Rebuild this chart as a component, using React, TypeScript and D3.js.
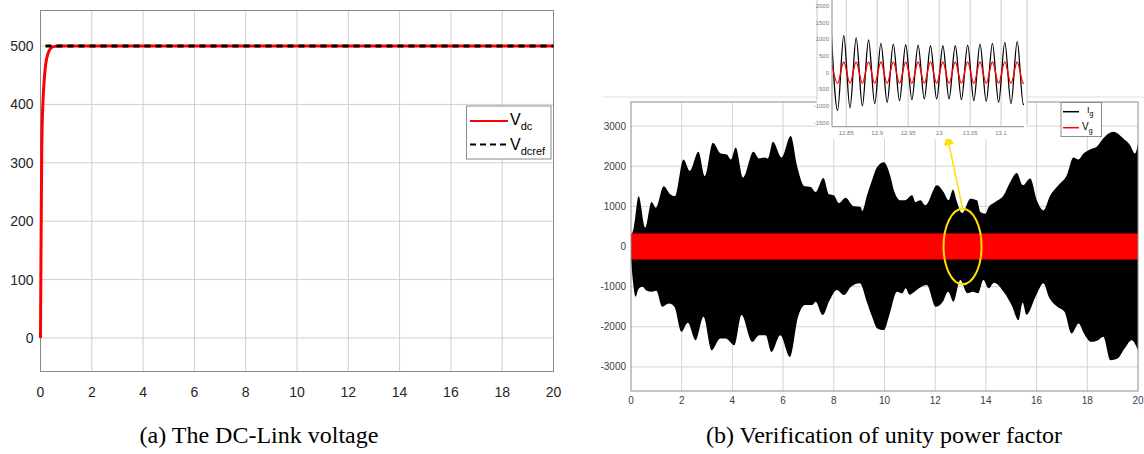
import * as d3 from "d3";

// (a) DC-link voltage
const vdcTime = [0, 0.02, 0.05, 0.1, 0.15, 0.2, 0.3, 0.4, 0.5, 0.7, 20];
const vdcValue = [0, 150, 328, 408, 445, 468, 488, 496, 499, 500, 500];
const vdcRefValue = 500;
const timeTicks = [0, 2, 4, 6, 8, 10, 12, 14, 16, 18, 20];
const vdcTicks = [0, 100, 200, 300, 400, 500];

// (b) grid current envelope (upper / lower)
const igUpperTime = [0, 0.12, 0.3, 0.56, 0.81, 0.98, 1.29, 1.55, 1.73, 2.07, 2.32, 2.66, 2.91, 3.23, 3.54, 3.78, 3.94, 4.13, 4.42, 4.83, 5.05, 5.28, 5.4, 5.6, 5.94, 6.3, 6.56, 6.85, 7.09, 7.28, 7.59, 7.81, 8.0, 8.2, 8.46, 8.79, 9.06, 9.12, 9.31, 9.48, 9.71, 9.97, 10.24, 10.37, 10.63, 10.8, 11.09, 11.22, 11.42, 11.61, 12.07, 12.33, 12.53, 12.7, 12.86, 13.06, 13.39, 13.65, 13.78, 13.98, 14.11, 14.37, 14.7, 14.96, 15.22, 15.46, 15.75, 16.01, 16.27, 16.54, 16.86, 17.19, 17.45, 17.65, 17.85, 18.11, 18.37, 18.57, 19.03, 19.42, 19.69, 19.88, 20];
const igUpperValue = [250, 500, 1250, 467, 1108, 967, 1500, 1300, 1250, 2167, 1883, 2358, 1750, 2583, 2317, 2292, 2167, 2467, 1717, 2358, 2192, 2217, 2190, 2608, 2217, 2750, 1983, 1500, 1483, 1358, 1708, 1300, 1275, 1083, 1217, 1000, 983, 883, 1275, 1600, 1983, 2100, 1733, 1400, 1150, 1150, 1275, 1108, 1150, 1025, 1525, 1358, 1150, 1417, 1108, 833, 1192, 1150, 858, 817, 983, 1108, 1275, 1608, 1833, 1525, 1692, 1150, 900, 1275, 1525, 1775, 2217, 2167, 2317, 2417, 2483, 2650, 2858, 2692, 2525, 2317, 2567];
const igLowerTime = [0, 0.1, 0.18, 0.3, 0.45, 0.62, 0.81, 1.0, 1.23, 1.5, 1.71, 1.99, 2.24, 2.55, 2.86, 3.18, 3.52, 3.73, 4.08, 4.36, 4.78, 5.06, 5.31, 5.54, 5.89, 6.27, 6.59, 6.87, 7.15, 7.28, 7.56, 7.84, 8.12, 8.4, 8.68, 9.03, 9.3, 9.51, 9.72, 9.97, 10.21, 10.49, 10.7, 10.84, 10.98, 11.18, 11.46, 11.67, 12.02, 12.3, 12.51, 12.72, 12.99, 13.27, 13.48, 13.69, 13.9, 14.11, 14.32, 14.74, 15.01, 15.29, 15.45, 15.6, 15.99, 16.27, 16.48, 16.82, 17.1, 17.38, 17.66, 17.87, 18.15, 18.43, 18.63, 18.91, 19.19, 19.47, 19.75, 20];
const igLowerValue = [-300, -1000, -1250, -1050, -1000, -1100, -1125, -1100, -1500, -1420, -1500, -2125, -1900, -2333, -1750, -2583, -2292, -2292, -2458, -1708, -2375, -2208, -2208, -2625, -2208, -2750, -1750, -1458, -1458, -1375, -1708, -1333, -1083, -1208, -1000, -917, -1375, -1750, -2042, -2083, -1667, -1125, -1167, -1042, -1200, -1125, -1000, -958, -1500, -1375, -1125, -1375, -833, -1167, -1130, -1167, -833, -1042, -900, -1167, -1458, -1833, -1400, -1700, -1208, -917, -1250, -1500, -1625, -2167, -1917, -2167, -2375, -2333, -2250, -2833, -2792, -2542, -2333, -2583];
const vgBand = 325;
const gridTicks = [-3000, -2000, -1000, 0, 1000, 2000, 3000];

// zoomed inset: successive peaks / troughs of Ig and Vg (50 Hz, half period 0.01 s)
const insetStart = 12.826;
const halfPeriod = 0.01;
const insetIg = [1150, -1131, 1111, -1060, 1040, -990, 980, -929, 879, -889, 859, -838, 838, -808, 828, -788, 808, -788, 808, -788, 808, -808, 828, -838, 859, -859, 879, -889, 909, -929, 929, -960, 950];
const insetVg = [322, -323, 320, -322, 321, -320, 322, -323, 320, -321, 322, -320, 321, -322, 320, -323, 322, -320, 321, -322, 320, -321, 322, -323, 320, -322, 321, -320, 322, -323, 320, -322, 321];
const insetXTicks = [12.85, 12.9, 12.95, 13, 13.05, 13.1];
const insetYTicks = [-1500, -1000, -500, 0, 500, 1000, 1500, 2000];

// marker ellipse and arrow tip, in panel (b) data units
const markT = 13.08;
const markRt = 0.75;
const markRv = 940;
const arrowTip = [12.45, 2825];

const sans = "'Liberation Sans', Arial, sans-serif";
const serif = "'Liberation Serif', 'Times New Roman', serif";

export default function App() {
  return (
    <div style={{ position: "absolute", left: 0, top: 0 }}>
      <svg width={1144} height={454} style={{ display: "block", background: "#fff" }}>
        <PanelA />
        <PanelB />
      </svg>
    </div>
  );
}

function PanelA() {
  const left = 40.5, right = 553.5, top = 10.5, bottom = 371.5;
  const x = d3.scaleLinear().domain([0, 20]).range([left, right]);
  const y = d3.scaleLinear().domain([-57.4, 560.8]).range([bottom, top]);
  const pts = vdcTime.map((t, i) => [t, vdcValue[i]]);
  const line = d3
    .line()
    .x((d) => x(d[0]))
    .y((d) => y(d[1]))
    .curve(d3.curveMonotoneX);

  return (
    <g>
      <rect x={left} y={top} width={right - left} height={bottom - top} fill="#fff" />
      {timeTicks.slice(1, -1).map((t) => (
        <line key={t} x1={x(t)} x2={x(t)} y1={top} y2={bottom} stroke="#cfcfcf" />
      ))}
      {vdcTicks.map((v) => (
        <line key={v} x1={left} x2={right} y1={y(v)} y2={y(v)} stroke="#cfcfcf" />
      ))}
      <rect x={left} y={top} width={right - left} height={bottom - top} fill="none" stroke="#8a8a8a" />
      <path d={line(pts)} fill="none" stroke="#ff0000" strokeWidth={3} />
      <line
        x1={x(0)}
        x2={x(20)}
        y1={y(vdcRefValue)}
        y2={y(vdcRefValue)}
        stroke="#000"
        strokeWidth={3}
        strokeDasharray="6 5"
        strokeDashoffset={-5}
      />
      {timeTicks.map((t) => (
        <text key={t} x={x(t)} y={bottom + 25} textAnchor="middle" fontFamily={sans} fontSize={14} fill="#262626">
          {t}
        </text>
      ))}
      {vdcTicks.map((v) => (
        <text key={v} x={left - 7} y={y(v) + 5} textAnchor="end" fontFamily={sans} fontSize={14} fill="#262626">
          {v}
        </text>
      ))}
      {/* legend */}
      <g fontFamily={sans} fill="#000">
        <rect x={466.5} y={106} width={84.5} height={53} fill="#fff" stroke="#8a8a8a" />
        <line x1={470} x2={508} y1={121} y2={121} stroke="#ff0000" strokeWidth={2} />
        <text x={510} y={124.5} fontSize={16}>
          V<tspan fontSize={11} dy={5}>dc</tspan>
        </text>
        <line x1={470} x2={508} y1={144.5} y2={144.5} stroke="#000" strokeWidth={2} strokeDasharray="6 4" />
        <text x={510} y={150} fontSize={16}>
          V<tspan fontSize={11} dy={5}>dcref</tspan>
        </text>
      </g>
      <text x={259} y={443} textAnchor="middle" fontFamily={serif} fontSize={24} fill="#000">
        (a) The DC-Link voltage
      </text>
    </g>
  );
}

function PanelB() {
  const left = 631, right = 1138, top = 102, bottom = 391;
  const x = d3.scaleLinear().domain([0, 20]).range([left, right]);
  const y = d3.scaleLinear().domain([-3600, 3600]).range([bottom, top]);

  const upper = igUpperTime.map((t, i) => [t, igUpperValue[i]]);
  const lower = igLowerTime.map((t, i) => [t, igLowerValue[i]]);
  const area = d3
    .area()
    .x((d) => x(d[0]))
    .y0(y(0))
    .y1((d) => y(d[1]))
    .curve(d3.curveMonotoneX);

  const ex = x(markT);
  const ey = y(0);
  const erx = x(markT + markRt) - ex;
  const ery = y(0) - y(markRv);
  const tipX = x(arrowTip[0]);
  const tipY = y(arrowTip[1]);
  const baseX = ex;
  const baseY = ey - ery;
  const ang = Math.atan2(tipY - baseY, tipX - baseX);
  const headLen = 12, headW = 5;
  const hx = tipX - headLen * Math.cos(ang);
  const hy = tipY - headLen * Math.sin(ang);
  const head = [
    [tipX, tipY],
    [hx + headW * Math.sin(ang), hy - headW * Math.cos(ang)],
    [hx - headW * Math.sin(ang), hy + headW * Math.cos(ang)],
  ];

  return (
    <g>
      <line x1={603} x2={1144} y1={97} y2={97} stroke="#dedede" />
      <defs>
        <clipPath id="clipB">
          <rect x={left} y={top} width={right - left} height={bottom - top} />
        </clipPath>
      </defs>
      {timeTicks.slice(1, -1).map((t) => (
        <line key={t} x1={x(t)} x2={x(t)} y1={top} y2={bottom} stroke="#d4d4d4" />
      ))}
      {gridTicks.map((v) => (
        <line key={v} x1={left} x2={right} y1={y(v)} y2={y(v)} stroke="#d4d4d4" />
      ))}
      <g clipPath="url(#clipB)">
        <path d={area(upper)} fill="#000" />
        <path d={area(lower)} fill="#000" />
        <rect x={x(0)} y={y(vgBand)} width={x(20) - x(0)} height={y(-vgBand) - y(vgBand)} fill="#ff0000" />
      </g>
      <rect x={left} y={top} width={right - left} height={bottom - top} fill="none" stroke="#8c8c8c" />
      {timeTicks.map((t) => (
        <text key={t} x={x(t)} y={bottom + 13} textAnchor="middle" fontFamily={sans} fontSize={10} fill="#404040">
          {t}
        </text>
      ))}
      {gridTicks.map((v) => (
        <text key={v} x={left - 5} y={y(v) + 3.5} textAnchor="end" fontFamily={sans} fontSize={10} fill="#404040">
          {v}
        </text>
      ))}
      {/* marker */}
      <ellipse cx={ex} cy={ey} rx={erx} ry={ery} fill="none" stroke="#ffe000" strokeWidth={2} />
      <line x1={baseX} y1={baseY} x2={hx} y2={hy} stroke="#ffe000" strokeWidth={1.5} />
      <polygon points={head.map((p) => p.join(",")).join(" ")} fill="#ffe000" />
      {/* legend */}
      <g fontFamily={sans} fill="#000">
        <rect x={1061} y={102.5} width={40.5} height={34} fill="#fff" stroke="#8c8c8c" />
        <line x1={1063} x2={1079} y1={111.7} y2={111.7} stroke="#000" strokeWidth={1.5} />
        <text x={1087} y={113} fontSize={9}>
          I<tspan fontSize={7} dy={3}>g</tspan>
        </text>
        <line x1={1063} x2={1079} y1={127.7} y2={127.7} stroke="#ff0000" strokeWidth={1.5} />
        <text x={1082} y={129.5} fontSize={10}>
          V<tspan fontSize={7} dy={3}>g</tspan>
        </text>
      </g>
      <Inset />
      <text x={884} y={443} textAnchor="middle" fontFamily={serif} fontSize={24} fill="#000">
        (b) Verification of unity power factor
      </text>
    </g>
  );
}

function Inset() {
  const left = 832, right = 1024, top = 0, bottom = 126.7;
  const x = d3.scaleLinear().domain([12.827, 13.137]).range([left, right]);
  const y = d3.scaleLinear().domain([-1620, 2180]).range([bottom, top]);
  const line = d3
    .line()
    .x((d) => x(d[0]))
    .y((d) => y(d[1]))
    .curve(d3.curveMonotoneX);
  const ig = insetIg.map((v, i) => [insetStart + i * halfPeriod, v]);
  const vg = insetVg.map((v, i) => [insetStart + i * halfPeriod, v]);

  return (
    <g>
      <rect x={817} y={0} width={210} height={139} fill="#fff" />
      <line x1={817} x2={817} y1={0} y2={100} stroke="#c8c8c8" />
      <line x1={1027} x2={1027} y1={0} y2={125} stroke="#c8c8c8" />
      <defs>
        <clipPath id="clipInset">
          <rect x={left} y={top} width={right - left} height={bottom - top} />
        </clipPath>
      </defs>
      {insetXTicks.map((t) => (
        <line key={t} x1={x(t)} x2={x(t)} y1={top} y2={bottom} stroke="#bdbdbd" strokeWidth={0.8} />
      ))}
      <g clipPath="url(#clipInset)">
        <path d={line(ig)} fill="none" stroke="#000" strokeWidth={1.3} />
        <path d={line(vg)} fill="none" stroke="#ff0000" strokeWidth={1.3} />
      </g>
      <line x1={left} x2={left} y1={top} y2={bottom} stroke="#8c8c8c" />
      <line x1={left} x2={right} y1={bottom} y2={bottom} stroke="#8c8c8c" />
      {insetXTicks.map((t) => (
        <text key={t} x={x(t)} y={bottom + 8} textAnchor="middle" fontFamily={sans} fontSize={6} fill="#7a7a7a">
          {String(t)}
        </text>
      ))}
      {insetYTicks.map((v) => (
        <text key={v} x={left - 3} y={y(v) + 2} textAnchor="end" fontFamily={sans} fontSize={6} fill="#7a7a7a">
          {v}
        </text>
      ))}
    </g>
  );
}
